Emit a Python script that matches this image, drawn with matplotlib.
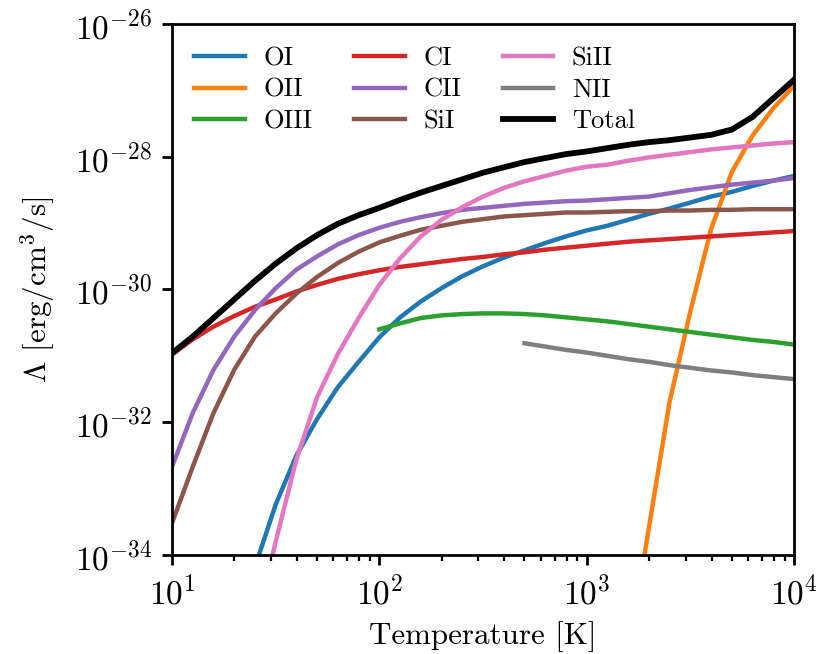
import numpy as np
import matplotlib
matplotlib.use('Agg')
import matplotlib.pyplot as plt
from matplotlib.ticker import NullLocator

plt.rcParams['font.family'] = 'serif'
plt.rcParams['font.serif'] = ['cmr10']
plt.rcParams['mathtext.fontset'] = 'cm'
plt.rcParams['axes.formatter.use_mathtext'] = True

nan = np.nan

# temperature grid [K], 0.1 dex steps
T = [10, 12.59, 15.85, 19.95, 25.12, 31.62, 39.81, 50.12, 63.10, 79.43,
     100, 125.9, 158.5, 199.5, 251.2, 316.2, 398.1, 501.2, 631.0, 794.3,
     1000, 1259, 1585, 1995, 2512, 3162, 3981, 5012, 6310, 7943, 10000]

# log10 of cooling rate [erg/cm^3/s]
log_oi = [nan, nan, nan, nan, -34.18, -33.24, -32.50, -31.95, -31.47, -31.09,
          -30.72, -30.42, -30.18, -29.98, -29.80, -29.65, -29.52, -29.41, -29.30, -29.20,
          -29.11, -29.04, -28.95, -28.86, -28.78, -28.69, -28.60, -28.53, -28.44, -28.36, -28.29]
log_oii = [nan] * 22 + [-35.5, -33.59, -31.69, -30.33, -29.09, -28.23, -27.68, -27.27, -26.93]
log_oiii = [nan] * 10 + [-30.60, -30.51, -30.43, -30.39, -30.37, -30.36, -30.36, -30.37, -30.39, -30.42,
                         -30.45, -30.48, -30.52, -30.56, -30.60, -30.64, -30.68, -30.72, -30.76, -30.79, -30.83]
log_ci = [-30.98, -30.75, -30.56, -30.40, -30.26, -30.15, -30.03, -29.93, -29.84, -29.77,
          -29.71, -29.66, -29.62, -29.58, -29.54, -29.51, -29.47, -29.44, -29.40, -29.37,
          -29.34, -29.31, -29.28, -29.26, -29.24, -29.22, -29.20, -29.18, -29.16, -29.14, -29.12]
log_cii = [-32.67, -31.86, -31.21, -30.71, -30.31, -29.98, -29.70, -29.50, -29.32, -29.18,
           -29.07, -28.98, -28.91, -28.85, -28.80, -28.77, -28.74, -28.71, -28.69, -28.67,
           -28.66, -28.64, -28.62, -28.60, -28.55, -28.50, -28.46, -28.42, -28.39, -28.36, -28.32]
log_sii = [-33.52, -32.67, -31.86, -31.21, -30.71, -30.36, -30.06, -29.81, -29.60, -29.43,
           -29.29, -29.19, -29.10, -29.04, -28.98, -28.94, -28.90, -28.88, -28.86, -28.84,
           -28.84, -28.83, -28.82, -28.82, -28.81, -28.81, -28.80, -28.80, -28.79, -28.79, -28.79]
log_siii = [nan, nan, nan, nan, -35.1, -33.80, -32.56, -31.62, -30.97, -30.43,
            -29.93, -29.53, -29.20, -28.95, -28.76, -28.60, -28.47, -28.37, -28.29, -28.21,
            -28.15, -28.12, -28.06, -28.01, -27.97, -27.93, -27.89, -27.86, -27.83, -27.80, -27.78]
log_nii = [nan] * 17 + [-30.81, -30.86, -30.91, -30.95, -31.00, -31.05, -31.09, -31.14,
                        -31.18, -31.22, -31.25, -31.29, -31.32, -31.35]
log_total = [-30.96, -30.71, -30.43, -30.15, -29.87, -29.61, -29.38, -29.18, -29.01, -28.88,
             -28.77, -28.65, -28.54, -28.44, -28.34, -28.24, -28.16, -28.08, -28.02, -27.96,
             -27.92, -27.87, -27.82, -27.78, -27.75, -27.71, -27.67, -27.59, -27.40, -27.12, -26.84]

species = [('OI', log_oi, 'C0'), ('OII', log_oii, 'C1'), ('OIII', log_oiii, 'C2'),
           ('CI', log_ci, 'C3'), ('CII', log_cii, 'C4'), ('SiI', log_sii, 'C5'),
           ('SiII', log_siii, 'C6'), ('NII', log_nii, 'C7')]

yticks = [1e-34, 1e-32, 1e-30, 1e-28, 1e-26]

fig = plt.figure(figsize=(4.09, 3.27), dpi=200)
ax = fig.add_axes([0.2103, 0.1514, 0.7604, 0.8119])

for name, vals, col in species:
    ax.plot(T, 10**np.array(vals), color=col, lw=1.6, label=name)
ax.plot(T, 10**np.array(log_total), color='k', lw=2.1, label='Total')

ax.set_xscale('log')
ax.set_yscale('log')
ax.set_xlim(10, 1e4)
ax.set_ylim(1e-34, 1e-26)
ax.set_yticks(yticks)
ax.yaxis.set_minor_locator(NullLocator())

ax.tick_params(labelsize=12, width=1.0)
ax.tick_params(which='minor', width=0.8)
for spine in ax.spines.values():
    spine.set_linewidth(1.0)

ax.set_xlabel('Temperature [K]', fontsize=11.2)
ax.set_ylabel(r'$\Lambda$ [erg/cm$^3$/s]', fontsize=11.2, labelpad=6)

ax.legend(loc='upper left', ncol=3, fontsize=9.5, frameon=False, handlelength=1.9,
          handletextpad=0.7, columnspacing=1.6, labelspacing=0.3, borderpad=0.4,
          borderaxespad=0.45)

fig.savefig('out.png', dpi=200)
